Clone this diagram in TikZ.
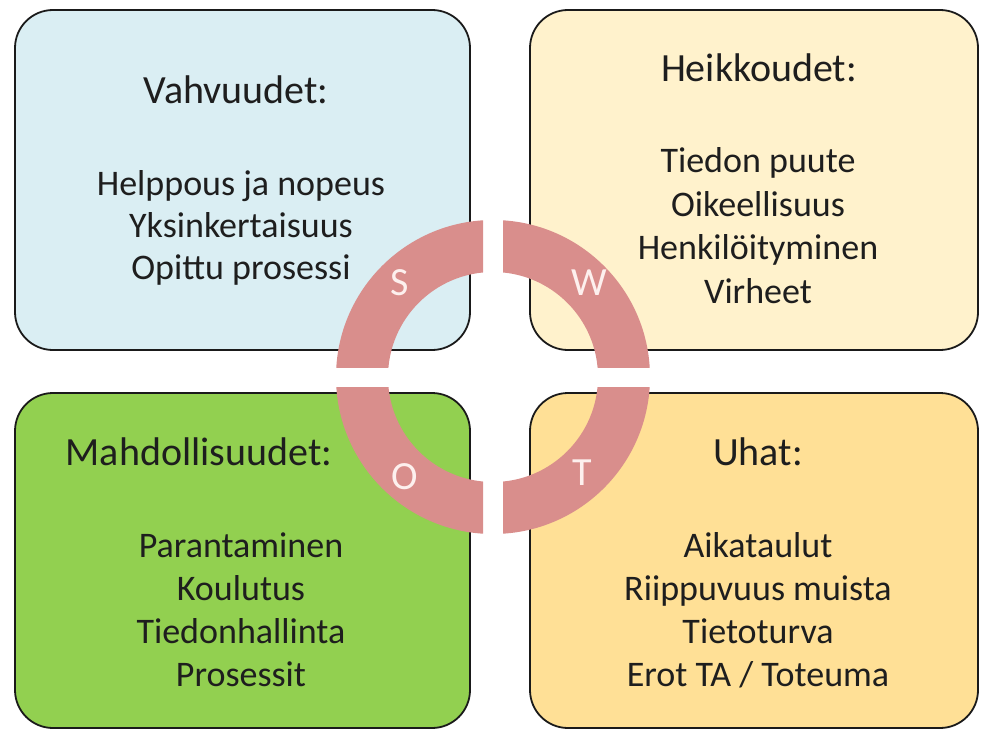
\documentclass[tikz,border=0pt]{standalone}
\usepackage{fontspec}
\setmainfont{Carlito}
\definecolor{sblue}{HTML}{DAEEF3}
\definecolor{wpeach}{HTML}{FFF2CC}
\definecolor{ogreen}{HTML}{92D050}
\definecolor{tyellow}{HTML}{FFE096}
\definecolor{ringpink}{HTML}{D98E8C}
\definecolor{boxline}{HTML}{1A1A1A}
\definecolor{ink}{HTML}{1E1E1E}
\definecolor{letter}{HTML}{FDF0EE}
\begin{document}
\begin{tikzpicture}[x=1pt,y=-1pt,
  swotbox/.style={draw=boxline, line width=1.8pt, rounded corners=38pt},
  textline/.style={font=\fontsize{36}{42}\selectfont, text=ink, inner sep=0pt, anchor=base},
  headline/.style={font=\fontsize{40}{46}\selectfont, text=ink, inner sep=0pt, anchor=base},
  ringletter/.style={font=\fontsize{40}{44}\selectfont, text=letter, inner sep=0pt}]
\useasboundingbox (0,0) rectangle (981,733);

% the four quadrant boxes
\path[swotbox, fill=sblue]   (15,10)  rectangle (470,350);
\path[swotbox, fill=wpeach]  (530,10) rectangle (978,350);
\path[swotbox, fill=ogreen]  (15,393) rectangle (470,728);
\path[swotbox, fill=tyellow] (530,393) rectangle (978,728);

% strengths
\node[headline] (shead) at (236,103) {Vahvuudet:};
\foreach \t [count=\i] in {Helppous ja nopeus, Yksinkertaisuus, Opittu prosessi}
  \node[textline] (s\i) at (241,{153+42*\i}) {\t};

% weaknesses
\node[headline] (whead) at (759,82) {Heikkoudet:};
\foreach \t [count=\i] in {Tiedon puute, Oikeellisuus, Henkilöityminen, Virheet}
  \node[textline] (w\i) at (758,{129+43.5*\i}) {\t};

% opportunities
\node[headline] (ohead) at (199,465) {Mahdollisuudet:};
\foreach \t [count=\i] in {Parantaminen, Koulutus, Tiedonhallinta, Prosessit}
  \node[textline] (o\i) at (241,{514+43*\i}) {\t};

% threats
\node[headline] (thead) at (758,465) {Uhat:};
\foreach \t [count=\i] in {Aikataulut, Riippuvuus muista, Tietoturva, Erot TA / Toteuma}
  \node[textline] (t\i) at (758,{514+43*\i}) {\t};

% the split ring in the middle
\foreach \sx/\sy in {-1/-1, 1/-1, -1/1, 1/1} {
  \begin{scope}
    \clip ({493+\sx*10},{377+\sy*10}) rectangle ({493+\sx*170},{377+\sy*170});
    \fill[ringpink, even odd rule] (493,377) circle[radius=157] (493,377) circle[radius=105];
  \end{scope}
}
\node[ringletter] (ls) at (400,283) {S};
\node[ringletter] (lw) at (589,283) {W};
\node[ringletter] (lo) at (405,477) {O};
\node[ringletter] (lt) at (582,473) {T};
\end{tikzpicture}
\end{document}
